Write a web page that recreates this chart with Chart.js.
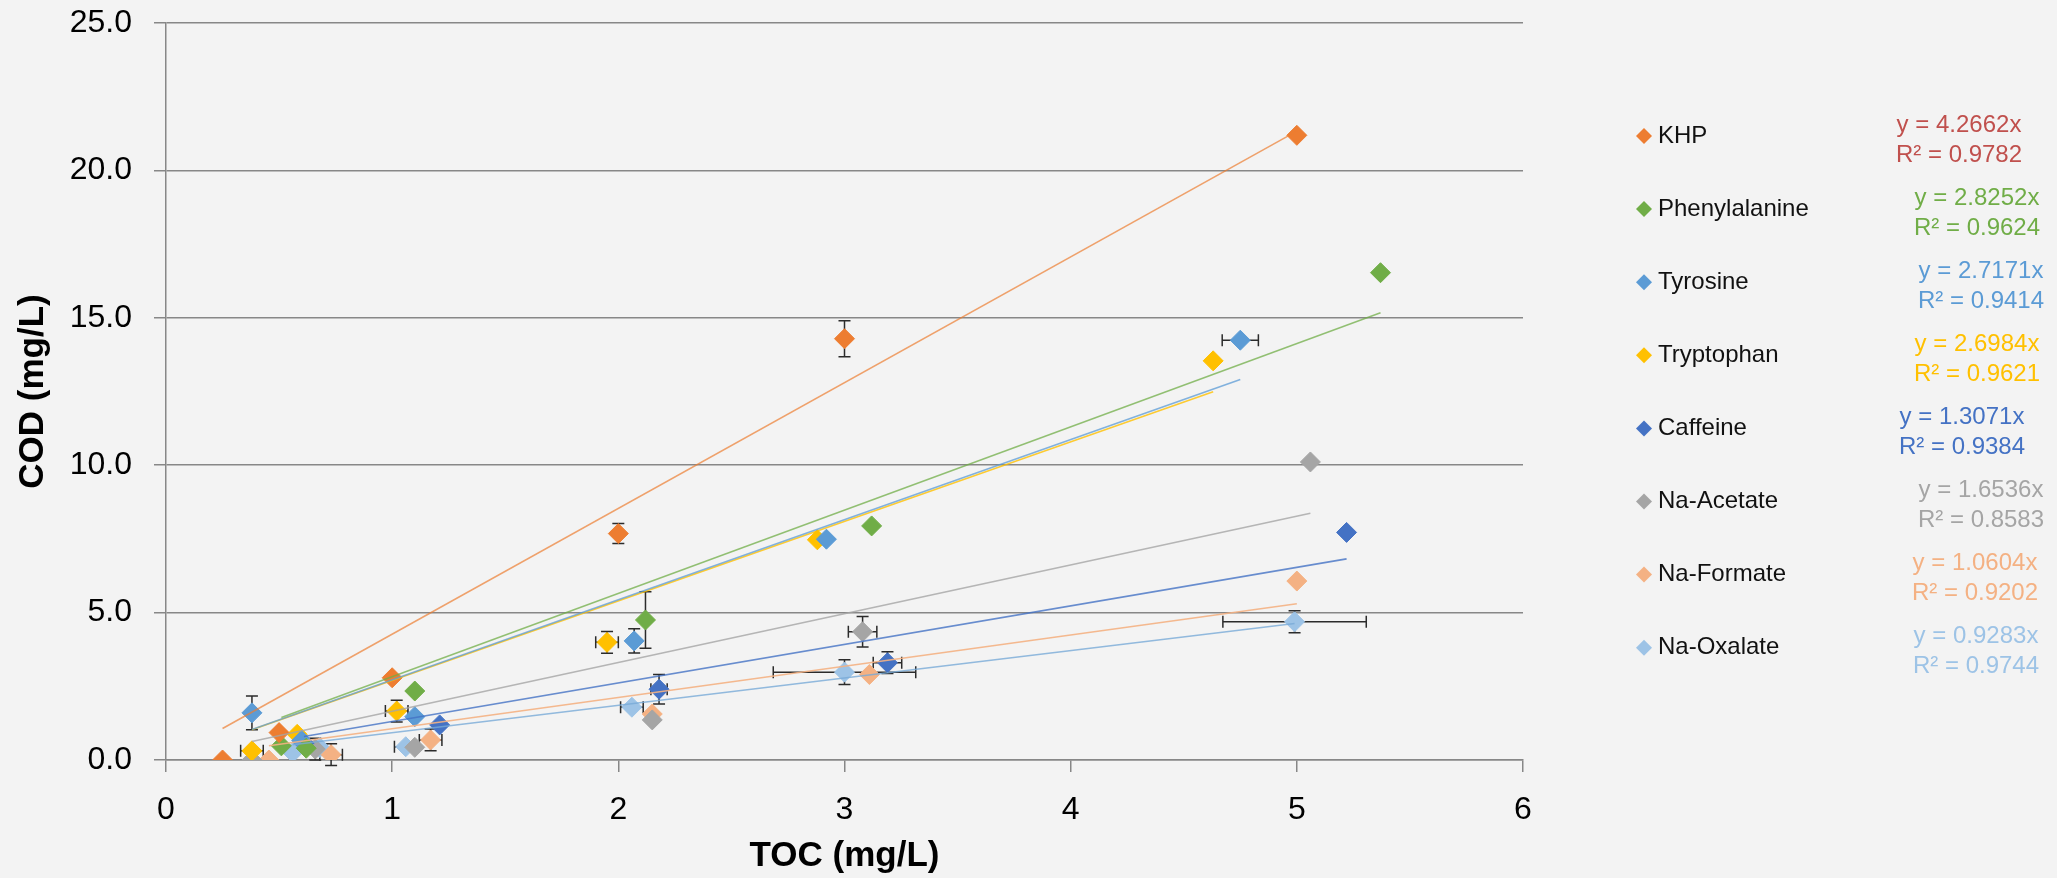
<!DOCTYPE html>
<html lang="en">
<head>
    <meta charset="UTF-8">
    <meta name="viewport" content="width=device-width, initial-scale=1.0">
    <title>COD vs TOC</title>
    <script src="https://cdn.jsdelivr.net/npm/chart.js"></script>
    <style>
        body, html {
            margin: 0;
            padding: 0;
            height: 100%;
            width: 100%;
            overflow: hidden;
            background: #f3f3f3;
            font-family: "Liberation Sans", Arial, sans-serif;
        }
        #wrap {
            width: 2057px;
            height: 878px;
        }
    </style>
</head>
<body>
    <div id="wrap"><canvas id="codChart"></canvas></div>

    <script>
        const seriesNames = ["KHP", "Phenylalanine", "Tyrosine", "Tryptophan", "Caffeine", "Na-Acetate", "Na-Formate", "Na-Oxalate"];
        const markerColors = ["#ED7D31", "#70AD47", "#5B9BD5", "#FFC000", "#4472C4", "#A5A5A5", "#F4B183", "#9DC3E6"];
        const trendColors = ["rgba(237,125,49,0.7)", "rgba(112,173,71,0.75)", "rgba(91,155,213,0.75)", "rgba(255,192,0,0.8)",
            "rgba(68,114,196,0.8)", "rgba(165,165,165,0.8)", "rgba(244,177,131,0.9)", "rgba(120,170,215,0.8)"];
        const equationColors = ["#C0504D", "#70AD47", "#5B9BD5", "#FFC000", "#4472C4", "#A5A5A5", "#F4B183", "#9DC3E6"];
        const slopes = [4.2662, 2.8252, 2.7171, 2.6984, 1.3071, 1.6536, 1.0604, 0.9283];
        const rSquared = ["0.9782", "0.9624", "0.9414", "0.9621", "0.9384", "0.8583", "0.9202", "0.9744"];

        // TOC (x) and COD (y) per series, same order as seriesNames
        const toc = [
            [0.25, 0.50, 1.00, 2.00, 3.00, 5.00],
            [0.51, 0.62, 1.10, 2.12, 3.12, 5.37],
            [0.38, 0.60, 1.10, 2.07, 2.92, 4.75],
            [0.38, 0.58, 1.02, 1.95, 2.88, 4.63],
            [0.61, 1.21, 2.18, 3.19, 5.22],
            [0.38, 0.66, 1.10, 2.15, 3.08, 5.06],
            [0.455, 0.73, 1.17, 2.15, 3.11, 5.00],
            [0.56, 0.68, 1.06, 2.06, 3.00, 4.99]
        ];
        const cod = [
            [0.00, 0.93, 2.79, 7.68, 14.29, 21.19],
            [0.48, 0.40, 2.34, 4.75, 7.94, 16.53],
            [1.60, 0.66, 1.47, 4.04, 7.49, 14.24],
            [0.31, 0.87, 1.66, 3.99, 7.47, 13.54],
            [0.57, 1.19, 2.40, 3.30, 7.72],
            [0.00, 0.37, 0.43, 1.36, 4.35, 10.11],
            [0.00, 0.18, 0.68, 1.56, 2.90, 6.07],
            [0.25, 0.42, 0.45, 1.79, 2.98, 4.69]
        ];
        const tocErr = [
            [0, 0, 0, 0, 0, 0],
            [0, 0, 0, 0, 0, 0],
            [0, 0, 0, 0, 0, 0.08],
            [0.05, 0, 0.05, 0.05, 0, 0],
            [0, 0, 0.036, 0.063, 0],
            [0, 0.05, 0, 0, 0.063, 0],
            [0, 0.05, 0.05, 0, 0, 0],
            [0, 0, 0.05, 0.05, 0.315, 0.317]
        ];
        const codErr = [
            [0, 0, 0, 0.34, 0.61, 0],
            [0, 0, 0, 0.96, 0, 0],
            [0.57, 0, 0, 0.41, 0, 0],
            [0, 0, 0.37, 0.37, 0, 0],
            [0, 0, 0.5, 0.37, 0],
            [0, 0.37, 0, 0, 0.52, 0],
            [0, 0.37, 0.37, 0, 0, 0],
            [0, 0, 0, 0, 0.42, 0.37]
        ];

        Chart.defaults.font.family = '"Liberation Sans", Arial, sans-serif';
        Chart.defaults.color = '#000';

        const axisGrey = '#878787';
        const eqCenters = [1959, 1977, 1981, 1977, 1962, 1981, 1975, 1976];

        // error bars go under the markers
        const errorBars = {
            id: 'errorBars',
            beforeDatasetsDraw(chart) {
                const { ctx, scales: { x, y } } = chart;
                const cap = 6;
                ctx.save();
                ctx.strokeStyle = '#2b2b2b';
                ctx.lineWidth = 1.5;
                toc.forEach((xs, s) => xs.forEach((xv, i) => {
                    const yv = cod[s][i];
                    const px = x.getPixelForValue(xv), py = y.getPixelForValue(yv);
                    const ex = tocErr[s][i], ey = codErr[s][i];
                    ctx.beginPath();
                    if (ey > 0) {
                        const t = y.getPixelForValue(yv + ey), b = y.getPixelForValue(yv - ey);
                        ctx.moveTo(px, t); ctx.lineTo(px, b);
                        ctx.moveTo(px - cap, t); ctx.lineTo(px + cap, t);
                        ctx.moveTo(px - cap, b); ctx.lineTo(px + cap, b);
                    }
                    if (ex > 0) {
                        const l = x.getPixelForValue(xv - ex), r = x.getPixelForValue(xv + ex);
                        ctx.moveTo(l, py); ctx.lineTo(r, py);
                        ctx.moveTo(l, py - cap); ctx.lineTo(l, py + cap);
                        ctx.moveTo(r, py - cap); ctx.lineTo(r, py + cap);
                    }
                    ctx.stroke();
                }));
                ctx.restore();
            }
        };

        // legend on the right with trendline equations beside it
        const sideLegend = {
            id: 'sideLegend',
            afterDraw(chart) {
                const ctx = chart.ctx;
                ctx.save();
                ctx.textBaseline = 'middle';
                ctx.font = '24px "Liberation Sans", Arial, sans-serif';
                seriesNames.forEach((name, s) => {
                    const cy = 136 + s * 73.1;
                    ctx.fillStyle = markerColors[s];
                    Chart.helpers.drawPoint(ctx, { pointStyle: 'rectRot', radius: 8, borderWidth: 0 }, 1644, cy);
                    ctx.fillStyle = '#111';
                    ctx.textAlign = 'left';
                    ctx.fillText(name, 1658, cy);
                    ctx.fillStyle = equationColors[s];
                    ctx.textAlign = 'center';
                    ctx.fillText('y = ' + slopes[s].toFixed(4) + 'x', eqCenters[s], cy - 11);
                    ctx.fillText('R\u00B2 = ' + rSquared[s], eqCenters[s], cy + 19);
                });
                ctx.restore();
            }
        };

        const datasets = [];
        seriesNames.forEach((name, s) => {
            datasets.push({
                label: name,
                type: 'scatter',
                data: toc[s].map((v, i) => ({ x: v, y: cod[s][i] })),
                backgroundColor: markerColors[s],
                borderColor: markerColors[s],
                borderWidth: 1,
                pointStyle: 'rectRot',
                pointRadius: 10,
                pointHoverRadius: 10,
                order: 1
            });
        });
        seriesNames.forEach((name, s) => {
            const lo = Math.min(...toc[s]), hi = Math.max(...toc[s]);
            datasets.push({
                label: name + ' trend',
                type: 'line',
                data: [{ x: lo, y: slopes[s] * lo }, { x: hi, y: slopes[s] * hi }],
                borderColor: trendColors[s],
                borderWidth: 1.6,
                pointRadius: 0,
                fill: false,
                order: 0
            });
        });

        new Chart(document.getElementById('codChart').getContext('2d'), {
            type: 'scatter',
            data: { datasets },
            options: {
                responsive: true,
                maintainAspectRatio: false,
                animation: false,
                layout: { padding: { top: 0, right: 534, bottom: 0, left: 0 } },
                scales: {
                    x: {
                        type: 'linear',
                        min: 0,
                        max: 6,
                        ticks: { stepSize: 1, font: { size: 32 }, color: '#000', padding: 19 },
                        grid: { drawOnChartArea: false, drawTicks: true, tickLength: 12, color: axisGrey, lineWidth: 1.5 },
                        border: { color: axisGrey, width: 1.5 },
                        title: { display: true, text: 'TOC (mg/L)', font: { size: 35, weight: 'bold' }, color: '#000', padding: { top: 0, bottom: 1 } },
                        afterFit: (scale) => { scale.height = 118; }
                    },
                    y: {
                        min: 0,
                        max: 25,
                        ticks: { stepSize: 5, font: { size: 32 }, color: '#000', padding: 22, callback: (v) => v.toFixed(1) },
                        grid: { tickLength: 12, color: axisGrey, lineWidth: 1.5 },
                        border: { color: axisGrey, width: 1.5 },
                        title: { display: true, text: 'COD (mg/L)', font: { size: 35, weight: 'bold' }, color: '#000', padding: { top: 12, bottom: 0 } },
                        afterFit: (scale) => {
                            scale.width = 166;
                            scale.paddingTop = 23;
                            scale.paddingBottom = 0;
                        }
                    }
                },
                plugins: {
                    legend: { display: false },
                    tooltip: { enabled: false }
                }
            },
            plugins: [errorBars, sideLegend]
        });
    </script>
</body>
</html>
